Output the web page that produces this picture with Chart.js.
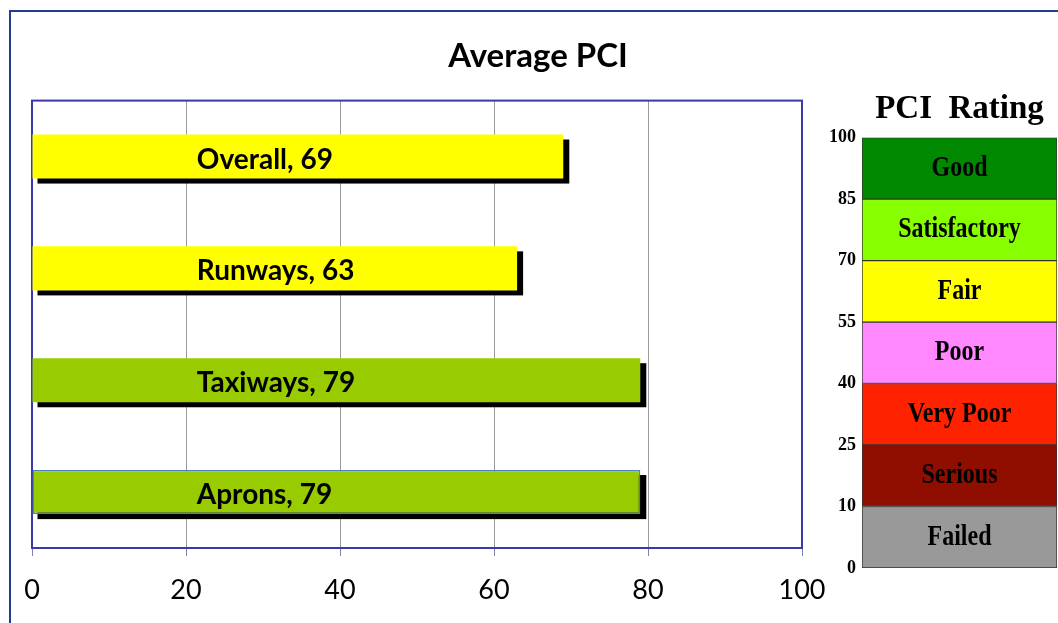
<!DOCTYPE html>
<html lang="en">
<head>
<meta charset="UTF-8">
<title>Average PCI</title>
<script src="https://cdn.jsdelivr.net/npm/chart.js"></script>
<style>
    body { margin: 0; background: #fff; }
    .janela { position: relative; width: 1058px; height: 623px; overflow: hidden; background: #fff; }
    .moldura { position: absolute; left: 9px; top: 10px; width: 1100px; height: 700px; border: 2px solid #1f3e8e; }
    #boxMain { position: absolute; left: 0; top: 0; width: 1058px; height: 623px; }
    #boxRating { position: absolute; left: 820px; top: 85px; width: 238px; height: 538px; }
</style>
</head>
<body>
<div class="janela">
    <div class="moldura"></div>
    <div id="boxMain"><canvas id="chartPCI"></canvas></div>
    <div id="boxRating"><canvas id="chartRating"></canvas></div>
</div>

<script>
// average PCI per area
var categories = ['Overall', 'Runways', 'Taxiways', 'Aprons'];
var pciValues = [69, 63, 79, 79];
var barColors = ['#ffff00', '#ffff00', '#99cc00', '#99cc00'];
var xTicks = [0, 20, 40, 60, 80, 100];

// PCI rating scale (bottom to top), every band drawn with the same height
var ratingNames = ['Failed', 'Serious', 'Very Poor', 'Poor', 'Fair', 'Satisfactory', 'Good'];
var ratingBreaks = [0, 10, 25, 40, 55, 70, 85, 100];
var ratingColors = ['#999999', '#8f0e00', '#ff2200', '#ff88ff', '#ffff00', '#88ff00', '#008800'];

Chart.defaults.font.family = 'Lato';
Chart.defaults.color = '#000';

// border of plot area + black drop shadow under the bars + the labels
const shadowBars = {
    id: 'shadowBars',
    beforeDatasetsDraw(chart) {
        const ctx = chart.ctx;
        const a = chart.chartArea;
        ctx.save();
        ctx.strokeStyle = '#3a3aa6';
        ctx.lineWidth = 2;
        ctx.strokeRect(a.left, a.top, a.right - a.left, a.bottom - a.top);
        ctx.fillStyle = '#000';
        chart.getDatasetMeta(0).data.forEach(bar => {
            ctx.fillRect(bar.base + 5, bar.y - bar.height / 2 + 5, bar.x - bar.base + 1, bar.height);
        });
        ctx.restore();
    },
    afterDatasetsDraw(chart) {
        const ctx = chart.ctx;
        const meta = chart.getDatasetMeta(0);
        const x = chart.scales.x.getPixelForValue(21.4);
        ctx.save();
        ctx.fillStyle = '#000';
        ctx.font = 'bold 28px Lato';
        ctx.textAlign = 'left';
        ctx.textBaseline = 'middle';
        meta.data.forEach((bar, i) => {
            ctx.fillText(categories[i] + ', ' + pciValues[i], x, bar.y + 3);
        });
        ctx.restore();
    }
};

const chartPCI = new Chart(document.getElementById('chartPCI'), {
    type: 'bar',
    data: {
        labels: categories,
        datasets: [{
            data: pciValues,
            backgroundColor: barColors,
            borderColor: ['rgba(0,0,0,0)', 'rgba(0,0,0,0)', 'rgba(0,0,0,0)', '#4f81bd'],
            borderWidth: [0, 0, 0, 1.5],
            borderSkipped: false,
            barPercentage: 0.394,
            categoryPercentage: 1
        }]
    },
    options: {
        indexAxis: 'y',
        responsive: true,
        maintainAspectRatio: false,
        animation: false,
        layout: { padding: { left: 18, right: 0, top: 0, bottom: 0 } },
        plugins: {
            legend: { display: false },
            tooltip: { enabled: false },
            title: {
                display: true,
                text: 'Average PCI',
                color: '#000',
                font: { family: 'Lato', size: 33, weight: 'bold' },
                padding: { top: 37, bottom: 24 }
            }
        },
        scales: {
            x: {
                min: 0,
                max: 100,
                afterBuildTicks: s => { s.ticks = xTicks.map(v => ({ value: v })); },
                afterFit: s => { s.height = 75; },
                grid: { color: '#9a9a9a', tickLength: 8, tickColor: '#8080a8' },
                border: { display: false },
                ticks: { color: '#000', font: { family: 'Lato', size: 27 }, padding: 18 }
            },
            y: {
                afterFit: s => { s.width = 14; },
                grid: { display: false },
                border: { display: false },
                ticks: { display: false }
            },
            // empty space on the right, where the rating scale sits
            yRight: {
                type: 'linear',
                position: 'right',
                afterFit: s => { s.width = 256; },
                grid: { display: false },
                border: { display: false },
                ticks: { display: false }
            }
        }
    },
    plugins: [shadowBars]
});

// names written inside every rating band
const bandLabels = {
    id: 'bandLabels',
    afterDatasetsDraw(chart) {
        const ctx = chart.ctx;
        chart.data.datasets.forEach((ds, i) => {
            const p = chart.getDatasetMeta(i).data[0].getCenterPoint();
            ctx.save();
            ctx.translate(p.x, p.y);
            ctx.scale(1, 1.2);
            ctx.fillStyle = '#000';
            ctx.font = 'bold 24px "Liberation Serif"';
            ctx.textAlign = 'center';
            ctx.textBaseline = 'middle';
            ctx.fillText(ratingNames[i], 0, 0);
            ctx.restore();
        });
    }
};

const chartRating = new Chart(document.getElementById('chartRating'), {
    type: 'bar',
    data: {
        labels: [''],
        datasets: ratingNames.map((name, i) => ({
            label: name,
            data: [[i, i + 1]],
            backgroundColor: ratingColors[i],
            borderColor: '#333333',
            borderWidth: 1,
            borderSkipped: false,
            barPercentage: 1,
            categoryPercentage: 1,
            grouped: false
        }))
    },
    options: {
        responsive: true,
        maintainAspectRatio: false,
        animation: false,
        layout: { padding: { left: 0, right: 1, top: 0, bottom: 55 } },
        plugins: {
            legend: { display: false },
            tooltip: { enabled: false },
            title: {
                display: true,
                fullSize: false,
                text: 'PCI  Rating',
                color: '#000',
                font: { family: 'Liberation Serif', size: 33, weight: 'bold' },
                padding: { top: 5, bottom: 8 }
            }
        },
        scales: {
            x: { display: false },
            y: {
                min: 0,
                max: ratingNames.length,
                afterBuildTicks: s => { s.ticks = ratingBreaks.map((v, i) => ({ value: i })); },
                afterFit: s => { s.width = 42; },
                grid: { display: false, drawTicks: false },
                border: { display: false },
                ticks: {
                    color: '#000',
                    font: { family: 'Liberation Serif', size: 18, weight: 'bold' },
                    padding: 6,
                    callback: (v, i) => ratingBreaks[i]
                }
            }
        }
    },
    plugins: [bandLabels]
});
</script>
</body>
</html>
